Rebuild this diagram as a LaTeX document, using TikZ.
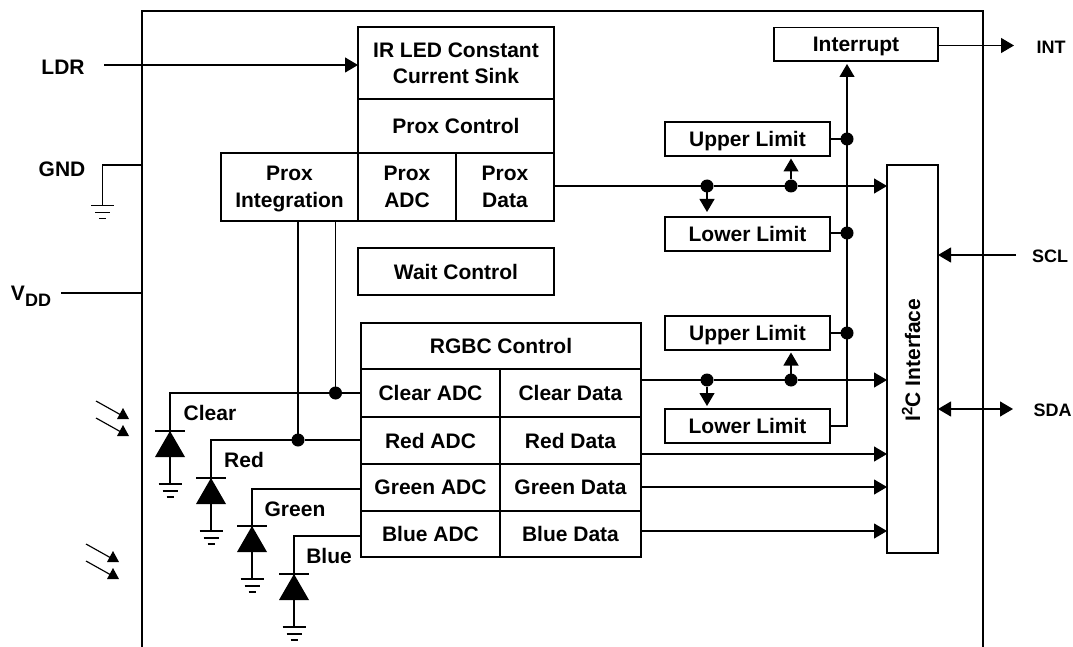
\documentclass[tikz,border=0pt]{standalone}
\usepackage{fontspec}
\setmainfont{Liberation Sans}
\usetikzlibrary{arrows.meta}
\tikzset{
  x=1pt,y=-1pt,
  every node/.style={font=\fontsize{21}{26.5}\selectfont\bfseries,inner sep=0pt,outer sep=0pt,text depth=0pt},
  blk/.style={draw=black,line width=1.9pt,fill=white,align=center,text depth=-1.5pt},
  lbl/.style={align=center},
  small/.style={font=\fontsize{18}{22}\selectfont\bfseries},
  wire/.style={draw=black,line width=1.15pt},
  arr/.style={wire,-{Triangle[length=13pt,width=15pt]}},
  arrs/.style={wire,{Triangle[length=13pt,width=15pt]}-{Triangle[length=13pt,width=15pt]}},
  dot/.style={circle,fill=black,minimum size=13pt},
  chip/.style={draw=black,line width=2.3pt},
  dio/.style={fill=black},
}
\newcommand{\bx}[6]{\node[blk,minimum width={(#4-#2)*1pt},minimum height={(#5-#3)*1pt}] (#1) at ({(#2+#4)/2},{(#3+#5)/2}) {#6};}
\newcommand{\gndsym}[2]{%
  \draw[wire] (#1-11.5,#2) -- (#1+11.5,#2);
  \draw[wire] (#1-7.5,#2+7) -- (#1+7.5,#2+7);
  \draw[wire] (#1-3.5,#2+13) -- (#1+3.5,#2+13);}
\newcommand{\diodesym}[2]{%
  \draw[wire] (#1-15,#2) -- (#1+15,#2);
  \fill[dio] (#1,#2) -- (#1+15,#2+26) -- (#1-15,#2+26) -- cycle;
  \draw[wire] (#1,#2) -- (#1,#2+53);
  \gndsym{#1}{#2+53}}
\newcommand{\lightsym}[2]{%
  \draw[wire] (#1-27,#2-7) -- (#1-2,#2+7);
  \fill[dio] (#1,#2) -- (#1+6,#2+11) -- (#1-6,#2+11) -- cycle;}
\begin{document}
\begin{tikzpicture}
\useasboundingbox (0,0) rectangle (1073,647);
% chip outline
\draw[chip] (142,647) -- (142,11) -- (983,11) -- (983,647);
% prox blocks
\bx{irled}{358}{27}{554}{99}{IR LED Constant\\Current Sink}
\bx{pctl}{358}{99}{554}{153}{Prox Control}
\bx{pint}{221}{153}{358}{221}{Prox\\Integration}
\bx{padc}{358}{153}{456}{221}{Prox\\ADC}
\bx{pdata}{456}{153}{554}{221}{Prox\\Data}
\bx{wait}{358}{248}{554}{295}{Wait Control}
% rgbc blocks
\bx{rgbc}{361}{323}{641}{369}{RGBC Control}
\bx{cadc}{361}{369}{500}{417}{Clear ADC}
\bx{cdata}{500}{369}{641}{417}{Clear Data}
\bx{radc}{361}{417}{500}{464}{Red ADC}
\bx{rdata}{500}{417}{641}{464}{Red Data}
\bx{gadc}{361}{464}{500}{511}{Green ADC}
\bx{gdata}{500}{464}{641}{511}{Green Data}
\bx{badc}{361}{511}{500}{557}{Blue ADC}
\bx{bdata}{500}{511}{641}{557}{Blue Data}
% limits
\bx{intr}{774}{27.5}{938}{61}{Interrupt}
\bx{ul1}{665}{122}{830}{156}{Upper Limit}
\bx{ll1}{665}{217}{830}{251}{Lower Limit}
\bx{ul2}{665}{316}{830}{350}{Upper Limit}
\bx{ll2}{665}{409}{830}{443}{Lower Limit}
\bx{i2c}{887}{165}{938}{553}{}
\node[rotate=90] (i2ct) at (911,360) {I\raisebox{0.38em}{\fontsize{15}{15}\selectfont 2}C Interface};
% outer labels
\node[lbl] (ldr) at (63,67) {LDR};
\node[lbl] (gnd) at (62,169) {GND};
\node[lbl] (vdd) at (31,293) {V\raisebox{-0.3em}{\fontsize{18}{18}\selectfont DD}};
\node[lbl,small] (int) at (1051,47) {INT};
\node[lbl,small] (scl) at (1050,256) {SCL};
\node[lbl,small] (sda) at (1052.5,410) {SDA};
% free ends
\coordinate (ldrs) at (104,65);
\coordinate (ldre) at (358,65);
\coordinate (gndw) at (142,165);
\coordinate (gndc) at (102.5,165);
\coordinate (gnde) at (102.5,205.5);
\coordinate (vdds) at (61,293);
\coordinate (vdde) at (142,293);
\coordinate (into) at (1014,45.5);
\coordinate (sclo) at (1016,255);
\coordinate (sdao) at (1013,409);
\coordinate (vtop) at (847,64);
% top side
\draw[arr] (ldrs) -- (ldre);
\draw[wire] (gndw) -- (gndc) -- (gnde);
\gndsym{102.5}{205.5}
\draw[wire] (vdds) -- (vdde);
\draw[arr] (intr.east |- into) -- (into);
\draw[arr] (sclo) -- (i2c.east |- sclo);
\draw[arrs] (i2c.east |- sdao) -- (sdao);
% junctions
\node[dot] (d1a) at (707,186) {};
\node[dot] (d1b) at (791,186) {};
\node[dot] (d2a) at (707,380) {};
\node[dot] (d2b) at (791,380) {};
\node[dot] (v1) at (847,139) {};
\node[dot] (v2) at (847,233) {};
\node[dot] (v3) at (847,333) {};
\node[dot] (cj) at (335.5,393) {};
\node[dot] (rj) at (298,440) {};
\coordinate (t1a) at (707,212);
\coordinate (t1b) at (791,158.5);
\coordinate (t2a) at (707,406);
\coordinate (t2b) at (791,352.5);
% data buses
\draw[arr] (pdata.east |- d1a) -- (d1a) -- (d1b) -- (i2c.west |- d1a);
\draw[arr] (d1a) -- (t1a);
\draw[arr] (d1b) -- (t1b);
\draw[arr] (cdata.east |- d2a) -- (d2a) -- (d2b) -- (i2c.west |- d2a);
\draw[arr] (d2a) -- (t2a);
\draw[arr] (d2b) -- (t2b);
\coordinate (rd) at (641,454);
\coordinate (gd) at (641,487);
\coordinate (bd) at (641,531);
\draw[arr] (rd) -- (i2c.west |- rd);
\draw[arr] (gd) -- (i2c.west |- gd);
\draw[arr] (bd) -- (i2c.west |- bd);
% limit output bus
\draw[arr] (ll2.east) -- (ll2.east -| vtop) -- (vtop);
\draw[wire] (ul1.east |- v1) -- (v1);
\draw[wire] (ll1.east |- v2) -- (v2);
\draw[wire] (ul2.east |- v3) -- (v3);
% integration feeds
\draw[wire] (pint.south -| cj) -- (cj);
\draw[wire] (pint.south -| rj) -- (rj);
% photodiode wires
\coordinate (cw) at (170,393);
\coordinate (ct) at (170,431);
\coordinate (rw) at (211,440);
\coordinate (rt) at (211,478);
\coordinate (gw) at (252,489);
\coordinate (gt) at (252,526);
\coordinate (bw) at (294,536);
\coordinate (bt) at (294,574);
\draw[wire] (cadc.west |- cw) -- (cj) -- (cw) -- (ct);
\draw[wire] (radc.west |- rw) -- (rj) -- (rw) -- (rt);
\draw[wire] (gadc.west |- gw) -- (gw) -- (gt);
\draw[wire] (badc.west |- bw) -- (bw) -- (bt);
\diodesym{170}{431}
\diodesym{211}{478}
\diodesym{252}{526}
\diodesym{294}{574}
\node[lbl] (lc) at (210,413) {Clear};
\node[lbl] (lr) at (244,460) {Red};
\node[lbl] (lg) at (295,509) {Green};
\node[lbl] (lb) at (329,556) {Blue};
% incoming light
\lightsym{123}{408}
\lightsym{123}{425}
\lightsym{113}{551}
\lightsym{113}{568}
\end{tikzpicture}
\end{document}
